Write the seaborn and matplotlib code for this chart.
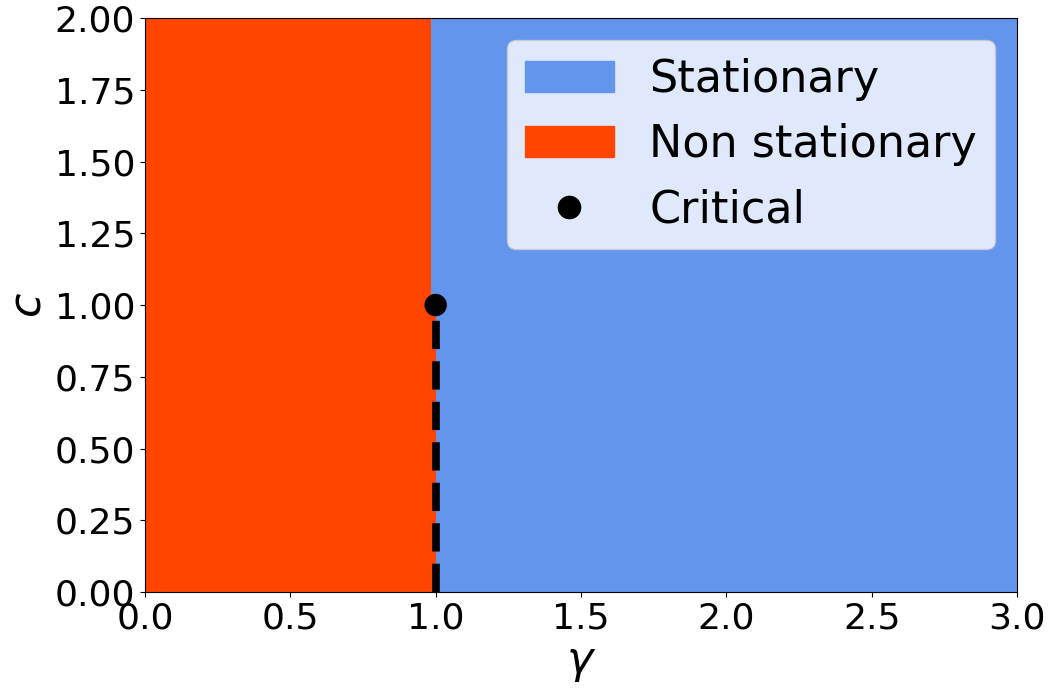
import numpy as np
import pandas as pd
import matplotlib
matplotlib.use("Agg")
import matplotlib.pyplot as plt
import matplotlib.patches as mpatches
import seaborn as sns

# phase boundary gamma_c(c), piecewise over c
c_edges = [0.0, 1.0, 2.0]
gamma_boundary = [1.0, 0.985]
gamma_max = 3.0

# critical point and the dashed line below it
crit_gamma = [1.0]
crit_c = [1.0]
line_gamma = [1.0, 1.0]
line_c = [0.0, 1.0]

sns.set_style("ticks")
plt.rcParams["font.family"] = ["DejaVu Sans"]
plt.rcParams.update({"text.color": "black", "axes.labelcolor": "black",
                     "xtick.color": "black", "ytick.color": "black",
                     "axes.edgecolor": "black"})

fig, ax = plt.subplots(figsize=(10.53, 6.93), dpi=100)
fig.subplots_adjust(left=0.1377, right=0.9658, top=0.974, bottom=0.1457)

for i in range(len(gamma_boundary)):
    yy = [c_edges[i], c_edges[i + 1]]
    g = gamma_boundary[i]
    ax.fill_betweenx(yy, 0, g, color="orangered", linewidth=0)
    ax.fill_betweenx(yy, g, gamma_max, color="cornflowerblue", linewidth=0)

line_df = pd.DataFrame({"gamma": line_gamma, "c": line_c})
sns.lineplot(data=line_df, x="gamma", y="c", orient="y", color="black",
             linestyle="--", linewidth=5.5, ax=ax, zorder=3)

crit_df = pd.DataFrame({"gamma": crit_gamma, "c": crit_c})
sns.scatterplot(data=crit_df, x="gamma", y="c", color="black", s=260,
                edgecolor="none", ax=ax, zorder=4)

ax.set_xlim(0, 3)
ax.set_ylim(0, 2)
ax.set_xticks(np.arange(0, 3.01, 0.5))
ax.set_yticks(np.arange(0, 2.01, 0.25))
ax.set_xticklabels([f"{v:.1f}" for v in np.arange(0, 3.01, 0.5)])
ax.set_yticklabels([f"{v:.2f}" for v in np.arange(0, 2.01, 0.25)])
ax.tick_params(labelsize=26, colors="black")
ax.set_xlabel(r"$\gamma$", fontsize=32)
ax.set_ylabel(r"$c$", fontsize=32)
for sp in ax.spines.values():
    sp.set_visible(True)
    sp.set_color("black")

handles = [
    mpatches.Patch(color="cornflowerblue", label="Stationary"),
    mpatches.Patch(color="orangered", label="Non stationary"),
    plt.Line2D([], [], marker="o", linestyle="none", color="black",
               markersize=16, label="Critical"),
]
ax.legend(handles=handles, loc="upper right", fontsize=32, framealpha=0.8)

fig.savefig("out.png", dpi=100)
